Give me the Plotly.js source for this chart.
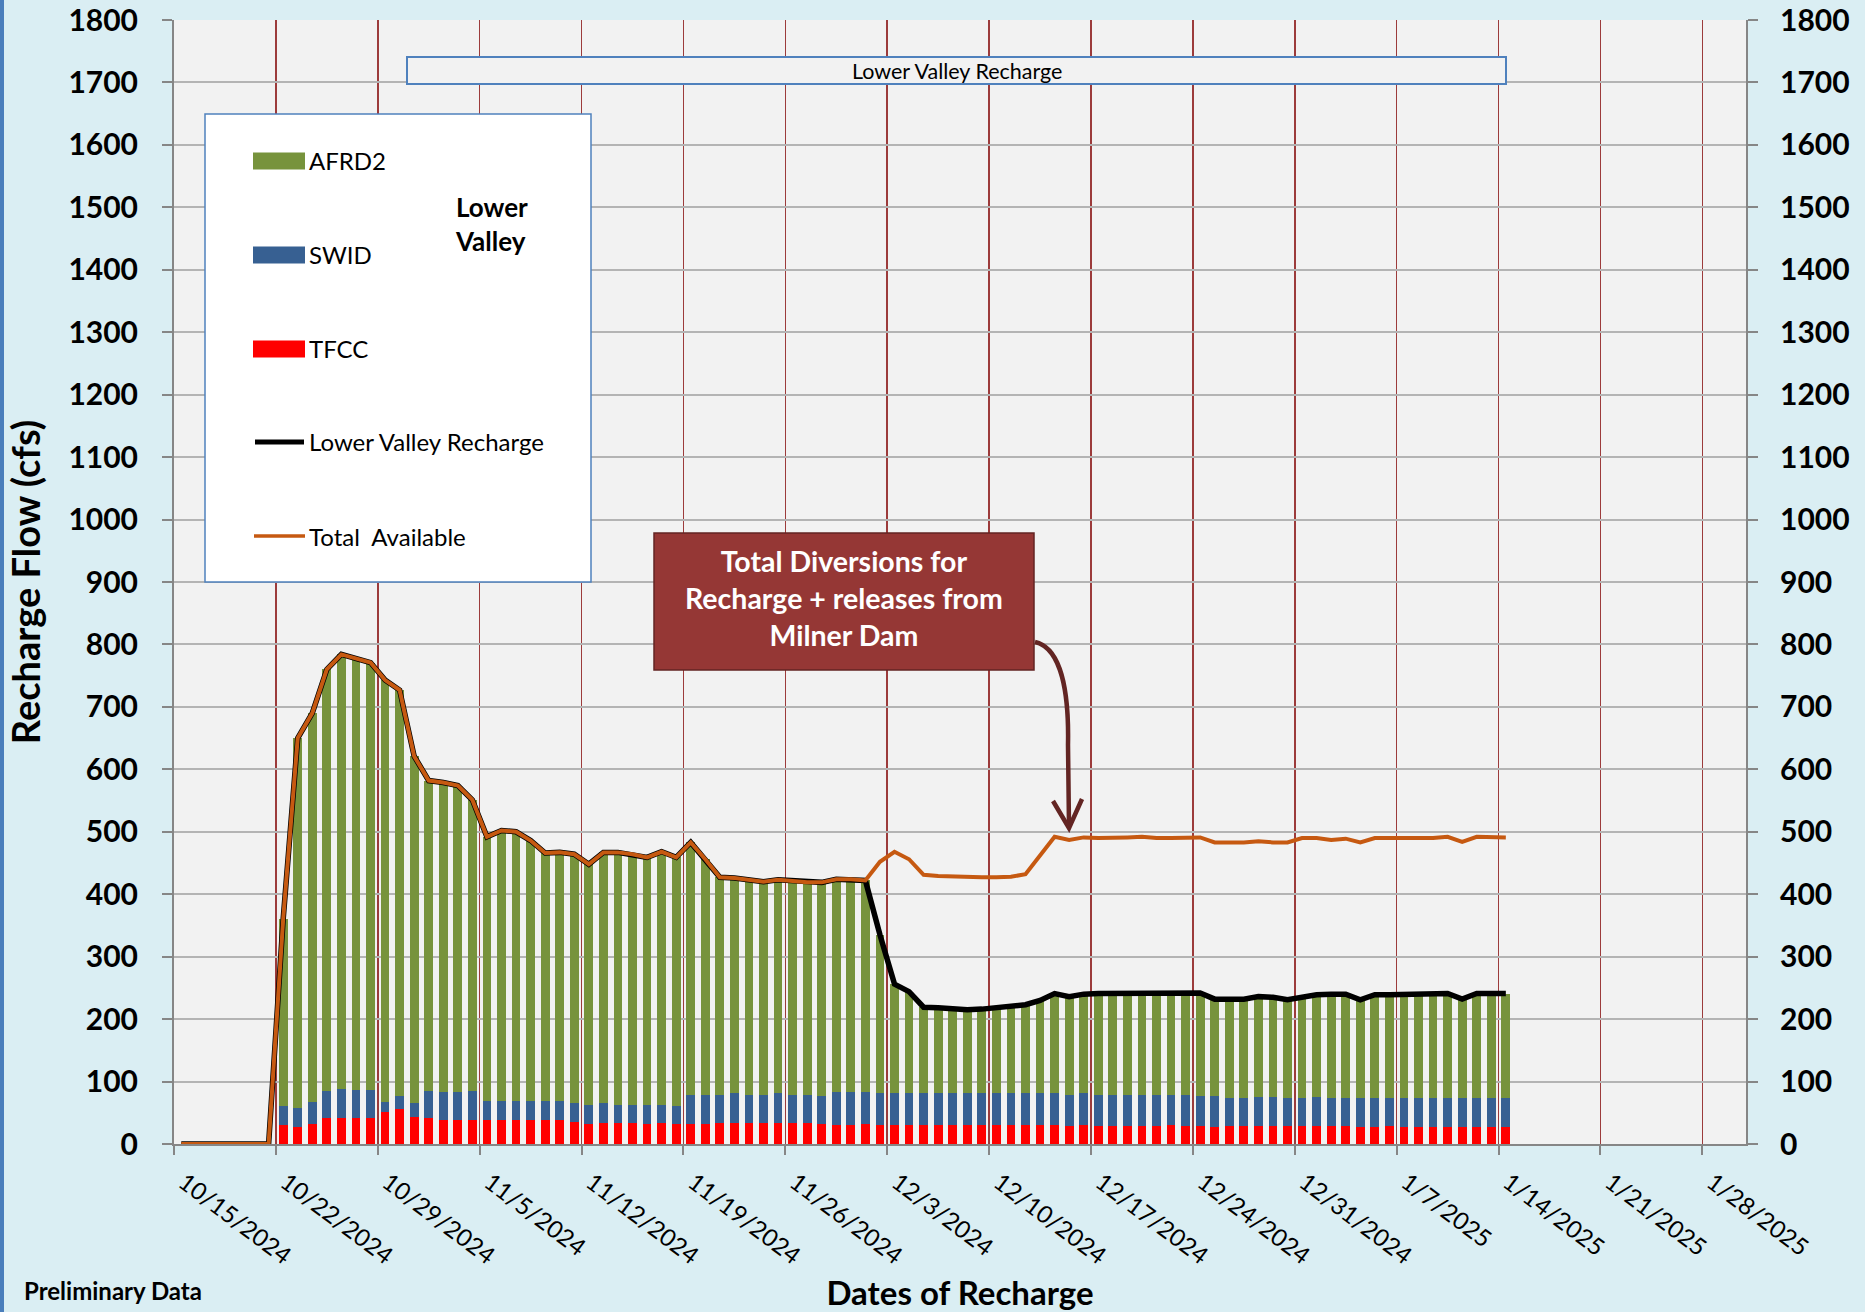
<!DOCTYPE html>
<html><head><meta charset="utf-8">
<script src="https://cdn.plot.ly/plotly-3.0.1.min.js"></script>
<style>html,body{margin:0;padding:0;background:#DAEEF3;} #chart{width:1865px;height:1312px;}</style>
</head><body><div id="chart"></div>
<script>
// ---------- DATA ----------
const dates = [
'2024-10-15','2024-10-16','2024-10-17','2024-10-18','2024-10-19','2024-10-20','2024-10-21',
'2024-10-22','2024-10-23','2024-10-24','2024-10-25','2024-10-26','2024-10-27','2024-10-28',
'2024-10-29','2024-10-30','2024-10-31',
'2024-11-01','2024-11-02','2024-11-03','2024-11-04','2024-11-05','2024-11-06','2024-11-07',
'2024-11-08','2024-11-09','2024-11-10','2024-11-11','2024-11-12','2024-11-13','2024-11-14',
'2024-11-15','2024-11-16','2024-11-17','2024-11-18','2024-11-19','2024-11-20','2024-11-21',
'2024-11-22','2024-11-23','2024-11-24','2024-11-25','2024-11-26','2024-11-27','2024-11-28',
'2024-11-29','2024-11-30',
'2024-12-01','2024-12-02','2024-12-03','2024-12-04','2024-12-05','2024-12-06','2024-12-07',
'2024-12-08','2024-12-09','2024-12-10','2024-12-11','2024-12-12','2024-12-13','2024-12-14',
'2024-12-15','2024-12-16','2024-12-17','2024-12-18','2024-12-19','2024-12-20','2024-12-21',
'2024-12-22','2024-12-23','2024-12-24','2024-12-25','2024-12-26','2024-12-27','2024-12-28',
'2024-12-29','2024-12-30','2024-12-31',
'2025-01-01','2025-01-02','2025-01-03','2025-01-04','2025-01-05','2025-01-06','2025-01-07',
'2025-01-08','2025-01-09','2025-01-10','2025-01-11','2025-01-12','2025-01-13','2025-01-14'];

const tfcc = [0,0,0,0,0,0,0,
30,28,32,41,42,42,42, 52,56,44,
41,38,38,38, 38,38,38,38,38,38,36, 32,34,34,34,32,34,32, 32,32,34,34,34,34,34, 34,34,32,30,30,
32,30, 31,31,31,31,31,31,31, 31,31,31,31,31,29,31, 29,29,29,29,29,31,29, 29,27,29,29,29,29,29, 29,
29,29,29,27,27,29, 27,27,27,27,27,27,27,27];

const swid = [0,0,0,0,0,0,0,
31,29,35,44,46,44,44, 15,21,21,
44,45,45,47, 31,31,31,31,31,31,29, 31,31,29,29,31,29,29, 47,47,44,47,44,44,47, 44,44,45,53,53,
51,51, 50,50,50,50,50,50,50, 50,50,50,50,50,50,50, 50,50,50,50,50,48,50, 48,50,44,44,46,46,44, 44,
46,44,44,46,46,44, 46,46,46,46,46,46,46,46];

const afrd2 = [0,0,0,0,0,0,0,
299,593,623,675,696,692,685, 676,650,556,
497,496,491,466, 423,433,431,417,397,398,399, 385,402,404,401,396,405,398, 404,377,349,345,345,342,342, 343,341,342,341,341,
339,254, 175,163,138,137,135,134,135, 137,138,142,149,160,157,159, 162,162,162,162,162,162,162, 165,155,158,159,161,160,158, 163,
164,167,167,158,166,166, 166,167,167,168,159,168,168,168];

const lowerValleyRecharge = [0,0,0,0,0,0,0,
360,650,690,760,784,778,771, 743,727,621,
582,579,574,551, 492,502,500,486,466,467,464, 448,467,467,464,459,468,459, 483,456,427,426,423,420,423, 421,419,419,424,424,
422,335, 256,244,219,218,216,215,216, 218,219,223,230,241,236,240, 241,241,241,241,241,241,241, 242,232,231,232,236,235,231, 236,
239,240,240,231,239,239, 239,240,240,241,232,241,241,241];

const totalAvailable = [0,0,0,0,0,0,0,
360,650,690,760,784,778,771, 743,727,621,
582,579,574,551, 492,502,500,486,466,467,464, 448,467,467,464,459,468,459, 483,456,427,426,423,420,423, 421,419,419,424,424,
422,452, 468,456,431,429,428,427,427, 427,428,432,463,492,487,491, 490,490,491,492,490,490,490, 491,483,483,483,485,483,483, 490,
490,487,489,483,490,490, 490,490,490,492,484,492,492,491];

const seriesNames = ['AFRD2','SWID','TFCC','Lower Valley Recharge','Total  Available'];
const seriesColors = ['#77933C','#376092','#FF0000','#000000','#C65911'];

// ---------- GEOMETRY HELPERS ----------
const W = 1865, H = 1312;
const M = {l:174, r:119, t:20, b:168};
const PL = M.l, PR = W - M.r, PT = M.t, PB = H - M.b;
const px = x => (x - PL) / (PR - PL);
const py = y => (PB - y) / (PB - PT);
const FONT = 'Lato, "Open Sans", "Liberation Sans", sans-serif';

// bars centred at midday of each date (Excel "between tick marks")
const xs = dates.map(d => d + ' 12:00');
const DAY = 86400000;

const traces = [
  {type:'bar', name:'TFCC', x:xs, y:tfcc, width:0.6*DAY, marker:{color:seriesColors[2]}},
  {type:'bar', name:'SWID', x:xs, y:swid, width:0.6*DAY, marker:{color:seriesColors[1]}},
  {type:'bar', name:'AFRD2', x:xs, y:afrd2, width:0.6*DAY, marker:{color:seriesColors[0]}},
  {type:'scatter', mode:'lines', name:'Lower Valley Recharge', x:xs, y:lowerValleyRecharge,
    line:{color:seriesColors[3], width:5.5}},
  {type:'scatter', mode:'lines', name:'Total  Available', x:xs, y:totalAvailable, yaxis:'y2',
    line:{color:seriesColors[4], width:4}}
];

const yTick = {family:FONT, size:30, color:'#000000', weight:'bold'};

// ---------- SHAPES ----------
const shapes = [];
shapes.push({type:'rect', xref:'paper', yref:'paper', x0:px(0), x1:px(4), y0:py(H), y1:py(0),
  fillcolor:'#4A7EBB', line:{width:0}, layer:'above'});
shapes.push({type:'rect', xref:'paper', yref:'paper', x0:px(407), x1:px(1506), y0:py(84), y1:py(57),
  fillcolor:'#F2F2F2', line:{color:'#4F81BD', width:2}, layer:'above'});
shapes.push({type:'rect', xref:'paper', yref:'paper', x0:px(205), x1:px(591), y0:py(582), y1:py(114),
  fillcolor:'#FFFFFF', line:{color:'#4F81BD', width:1.5}, layer:'above'});
const legY = [161, 255, 349, 442, 536];
for (let i = 0; i < 3; i++) {
  shapes.push({type:'rect', xref:'paper', yref:'paper', x0:px(253), x1:px(305), y0:py(legY[i]+8.5), y1:py(legY[i]-8.5),
    fillcolor:seriesColors[i], line:{width:0}, layer:'above'});
}
shapes.push({type:'line', xref:'paper', yref:'paper', x0:px(255), x1:px(304), y0:py(legY[3]), y1:py(legY[3]),
  line:{color:seriesColors[3], width:5}, layer:'above'});
shapes.push({type:'line', xref:'paper', yref:'paper', x0:px(254), x1:px(305), y0:py(legY[4]), y1:py(legY[4]),
  line:{color:seriesColors[4], width:3.5}, layer:'above'});
shapes.push({type:'rect', xref:'paper', yref:'paper', x0:px(654), x1:px(1034), y0:py(670), y1:py(533),
  fillcolor:'#953735', line:{color:'#632523', width:1.5}, layer:'above'});
const P = (x, y) => px(x).toFixed(5) + ',' + py(y).toFixed(5);
shapes.push({type:'path', xref:'paper', yref:'paper', layer:'above',
  path:'M' + P(1035,642) + ' C' + P(1062,648) + ' ' + P(1069,695) + ' ' + P(1068,745) + ' L' + P(1069,826),
  line:{color:'#632523', width:4.5}});
shapes.push({type:'path', xref:'paper', yref:'paper', layer:'above',
  path:'M' + P(1053,801) + ' L' + P(1069,828) + ' L' + P(1082,799),
  line:{color:'#632523', width:4.5}});

// ---------- ANNOTATIONS ----------
const ann = [];
for (let i = 0; i < 5; i++) {
  ann.push({xref:'paper', yref:'paper', x:px(307), y:py(legY[i]), xanchor:'left', yanchor:'middle',
    text:seriesNames[i], showarrow:false, font:{family:FONT, size:24, color:'#000'}});
}
ann.push({xref:'paper', yref:'paper', x:px(453), y:py(224), xanchor:'left', yanchor:'middle', align:'left',
  text:'Lower<br>Valley', showarrow:false, font:{family:FONT, size:26, color:'#000', weight:'bold'}});
ann.push({xref:'paper', yref:'paper', x:px(957), y:py(71), xanchor:'center', yanchor:'middle',
  text:'Lower Valley Recharge', showarrow:false, font:{family:FONT, size:21.5, color:'#000'}});
ann.push({xref:'paper', yref:'paper', x:px(844), y:py(598), xanchor:'center', yanchor:'middle', align:'center',
  text:'Total Diversions for<br>Recharge + releases from<br>Milner Dam', showarrow:false,
  font:{family:FONT, size:28.5, color:'#FFFFFF', weight:'bold'}});
ann.push({xref:'paper', yref:'paper', x:px(22), y:py(1290), xanchor:'left', yanchor:'middle',
  text:'Preliminary Data', showarrow:false, font:{family:FONT, size:24, color:'#000', weight:'bold'}});

const layout = {
  width:W, height:H, margin:M,
  paper_bgcolor:'#DAEEF3', plot_bgcolor:'#F2F2F2',
  barmode:'stack', showlegend:false, hovermode:'closest',
  font:{family:FONT, color:'#000'},
  xaxis:{type:'date', range:['2024-10-15','2025-01-31'], tick0:'2024-10-15', dtick:7*DAY,
    tickformat:'%-m/%-d/%Y', tickangle:37, tickfont:{family:FONT, size:24, color:'#000'},
    ticklabelshift:10, ticklabelstandoff:4,
    showgrid:true, gridcolor:'#9C3B3B', gridwidth:1.5,
    showline:true, linecolor:'#868686', linewidth:2, ticks:'outside', ticklen:9, tickwidth:2, tickcolor:'#868686',
    zeroline:false, automargin:false,
    title:{text:'Dates of Recharge', font:{family:FONT, size:33, color:'#000', weight:'bold'}, standoff:24}},
  yaxis:{range:[0,1800], dtick:100, tick0:0, tickfont:yTick,
    showgrid:true, gridcolor:'#B4B4B4', gridwidth:2, zeroline:false,
    showline:true, linecolor:'#868686', linewidth:2, ticks:'outside', ticklen:10, tickwidth:2, tickcolor:'#868686',
    ticklabelstandoff:18, automargin:false,
    title:{text:'Recharge Flow (cfs)', font:{family:FONT, size:38, color:'#000', weight:'bold'}, standoff:16}},
  yaxis2:{range:[0,1800], dtick:100, tick0:0, tickfont:yTick, overlaying:'y', side:'right',
    showgrid:false, zeroline:false,
    showline:true, linecolor:'#868686', linewidth:2, ticks:'outside', ticklen:10, tickwidth:2, tickcolor:'#868686',
    ticklabelstandoff:16, automargin:false},
  shapes:shapes, annotations:ann
};

Plotly.newPlot('chart', traces, layout, {displayModeBar:false, staticPlot:true});
</script>
</body></html>
